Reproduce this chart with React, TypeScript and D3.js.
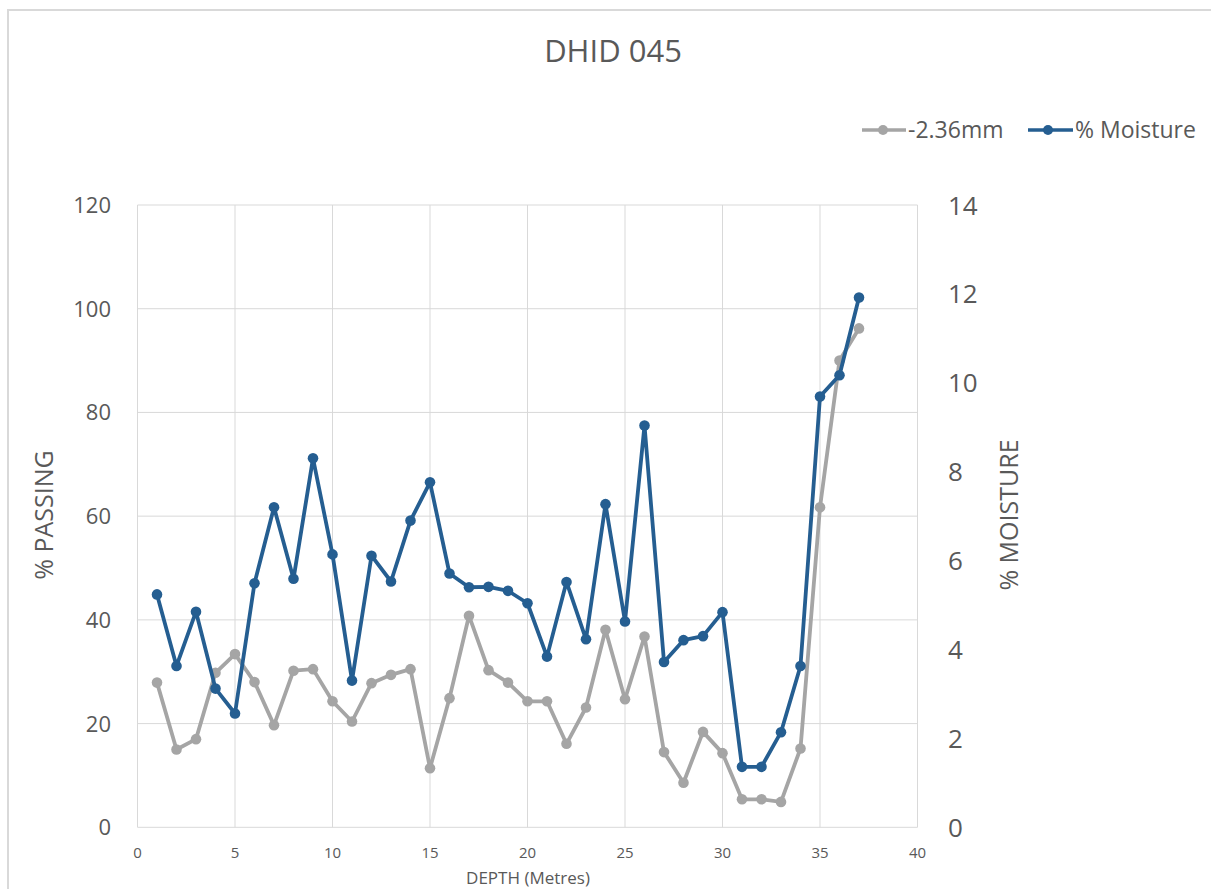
import React from "react";
import * as d3 from "d3";

const depths = [1,2,3,4,5,6,7,8,9,10,11,12,13,14,15,16,17,18,19,20,21,22,23,24,25,26,27,28,29,30,31,32,33,34,35,36,37];
const passing = [27.9,15.0,17.0,29.8,33.4,28.0,19.7,30.2,30.5,24.3,20.4,27.8,29.4,30.5,11.4,24.9,40.8,30.3,27.9,24.3,24.3,16.1,23.1,38.1,24.7,36.8,14.5,8.6,18.4,14.3,5.4,5.4,4.9,15.2,61.7,90.0,96.2];
const moisture = [5.24,3.63,4.85,3.12,2.56,5.49,7.20,5.59,8.30,6.14,3.30,6.11,5.53,6.90,7.76,5.71,5.40,5.41,5.32,5.04,3.84,5.52,4.23,7.27,4.63,9.04,3.72,4.21,4.30,4.84,1.36,1.36,2.14,3.63,9.69,10.17,11.92];
const xTicks = [0,5,10,15,20,25,30,35,40];
const leftTicks = [0,20,40,60,80,100,120];
const rightTicks = [0,2,4,6,8,10,12,14];

const GRAY = "#a5a5a5";
const BLUE = "#255e91";
const TEXT = "#595959";
const GRID = "#d9d9d9";

export default function App() {
  const left = 137.5, right = 917.5, top = 205, bottom = 827.3;
  const x = d3.scaleLinear().domain([0, 40]).range([left, right]);
  const yL = d3.scaleLinear().domain([0, 120]).range([bottom, top]);
  const yR = d3.scaleLinear().domain([0, 14]).range([bottom, top]);

  const lineP = d3.line<number>().x((_, i) => x(depths[i])).y((d) => yL(d));
  const lineM = d3.line<number>().x((_, i) => x(depths[i])).y((d) => yR(d));

  const font = "'Open Sans', sans-serif";

  return (
    <div style={{ position: "absolute", left: 0, top: 0 }}>
      <svg width={1211} height={889} style={{ display: "block", background: "#fff" }}>
        <rect x={8} y={10} width={1300} height={1000} fill="#fff" stroke={GRID} strokeWidth={2} />
        <text x={613} y={62} textAnchor="middle" fontFamily={font} fontSize={31} fill={TEXT}>DHID 045</text>

        {/* legend */}
        <g fontFamily={font} fontSize={23} fill={TEXT}>
          <line x1={862} x2={906} y1={130} y2={130} stroke={GRAY} strokeWidth={3.5} />
          <circle cx={883} cy={130} r={5} fill={GRAY} />
          <text x={908} y={138}>-2.36mm</text>
          <line x1={1028} x2={1073} y1={130} y2={130} stroke={BLUE} strokeWidth={3.5} />
          <circle cx={1048} cy={130} r={5} fill={BLUE} />
          <text x={1075} y={138}>% Moisture</text>
        </g>

        {/* grid */}
        {xTicks.map((t) => (
          <line key={"gx" + t} x1={x(t)} x2={x(t)} y1={top} y2={bottom} stroke={GRID} strokeWidth={1} />
        ))}
        {leftTicks.map((t) => (
          <line key={"gy" + t} x1={left} x2={right} y1={yL(t)} y2={yL(t)} stroke={GRID} strokeWidth={1} />
        ))}

        {/* axis labels */}
        <g fontFamily={font} fill={TEXT}>
          {leftTicks.map((t) => (
            <text key={"lt" + t} x={111} y={yL(t) + 8} textAnchor="end" fontSize={22}>{t}</text>
          ))}
          {rightTicks.map((t) => (
            <text key={"rt" + t} x={948} y={yR(t) + 9.5} textAnchor="start" fontSize={26}>{t}</text>
          ))}
          {xTicks.map((t) => (
            <text key={"xt" + t} x={x(t)} y={858} textAnchor="middle" fontSize={15}>{t}</text>
          ))}
          <text x={528} y={884} textAnchor="middle" fontSize={17}>DEPTH (Metres)</text>
          <text transform="translate(53,515) rotate(-90)" textAnchor="middle" fontSize={25}>% PASSING</text>
          <text transform="translate(1018,515) rotate(-90)" textAnchor="middle" fontSize={25}>% MOISTURE</text>
        </g>

        {/* series */}
        <path d={lineP(passing) || ""} fill="none" stroke={GRAY} strokeWidth={3.8} strokeLinejoin="round" />
        {passing.map((v, i) => (
          <circle key={"p" + i} cx={x(depths[i])} cy={yL(v)} r={5.3} fill={GRAY} />
        ))}
        <path d={lineM(moisture) || ""} fill="none" stroke={BLUE} strokeWidth={3.8} strokeLinejoin="round" />
        {moisture.map((v, i) => (
          <circle key={"m" + i} cx={x(depths[i])} cy={yR(v)} r={5.3} fill={BLUE} />
        ))}
      </svg>
    </div>
  );
}
